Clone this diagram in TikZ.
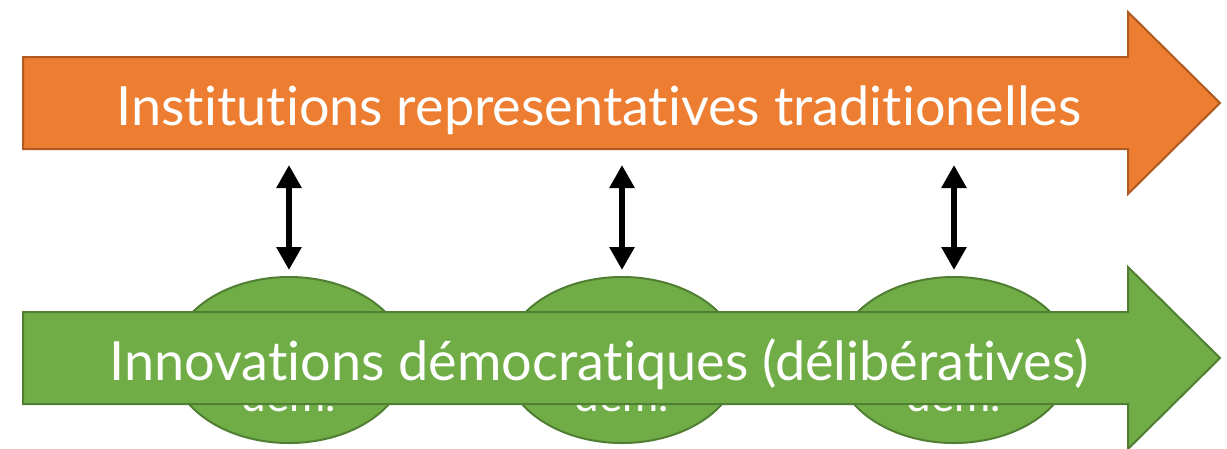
\documentclass[tikz,border=0pt]{standalone}
\usepackage{fontspec}
\setmainfont{Lato}[Ligatures=NoCommon]
\usetikzlibrary{arrows.meta,shapes.geometric}
\definecolor{instfill}{HTML}{ED7D31}
\definecolor{instline}{HTML}{AE5A21}
\definecolor{innofill}{HTML}{70AD47}
\definecolor{innoline}{HTML}{507E32}
\tikzset{
  bigarrow/.style={line width=2pt, line join=miter},
  oval/.style={ellipse, draw=innoline, fill=innofill, line width=2pt,
    minimum width=236pt, minimum height=166pt, inner sep=0pt},
  ovaltext/.style={text=white, font=\fontsize{44}{50}\selectfont, anchor=base, inner sep=0pt},
  bandtext/.style={text=white, font=\fontsize{54}{60}\selectfont, anchor=base, inner sep=0pt},
  link/.style={line width=6.5pt, {Triangle[width=24pt,length=23pt]}-{Triangle[width=24pt,length=23pt]}}
}
\begin{document}
\begin{tikzpicture}[x=1pt,y=-1pt]
  \useasboundingbox (0,0) rectangle (1227,448);
  \draw[bigarrow, draw=instline, fill=instfill]
    (23,57) -- (1128,57) -- (1128,12) -- (1220,103) -- (1128,194) -- (1128,149) -- (23,149) -- cycle;
  \draw
    (289,360) node[oval] (o1){}
    (622,360) node[oval] (o2){}
    (954,360) node[oval] (o3){};
  \draw
    (289,411) node[ovaltext] (d1){dém.}
    (622,411) node[ovaltext] (d2){dém.}
    (954,411) node[ovaltext] (d3){dém.};
  \draw[bigarrow, draw=innoline, fill=innofill]
    (23,312) -- (1128,312) -- (1128,267) -- (1220,358) -- (1128,449) -- (1128,404) -- (23,404) -- cycle;
  \draw
    (599,125) node[bandtext] (inst){Institutions representatives traditionelles}
    (599,380) node[bandtext] (inno){Innovations démocratiques (délibératives)};
  \coordinate (t1) at (289,165);
  \coordinate (t2) at (622,165);
  \coordinate (t3) at (954,165);
  \begin{scope}[link]
    \draw (t1) to (t1 |- 0,270);
    \draw (t2) to (t2 |- 0,270);
    \draw (t3) to (t3 |- 0,270);
  \end{scope}
\end{tikzpicture}
\end{document}
